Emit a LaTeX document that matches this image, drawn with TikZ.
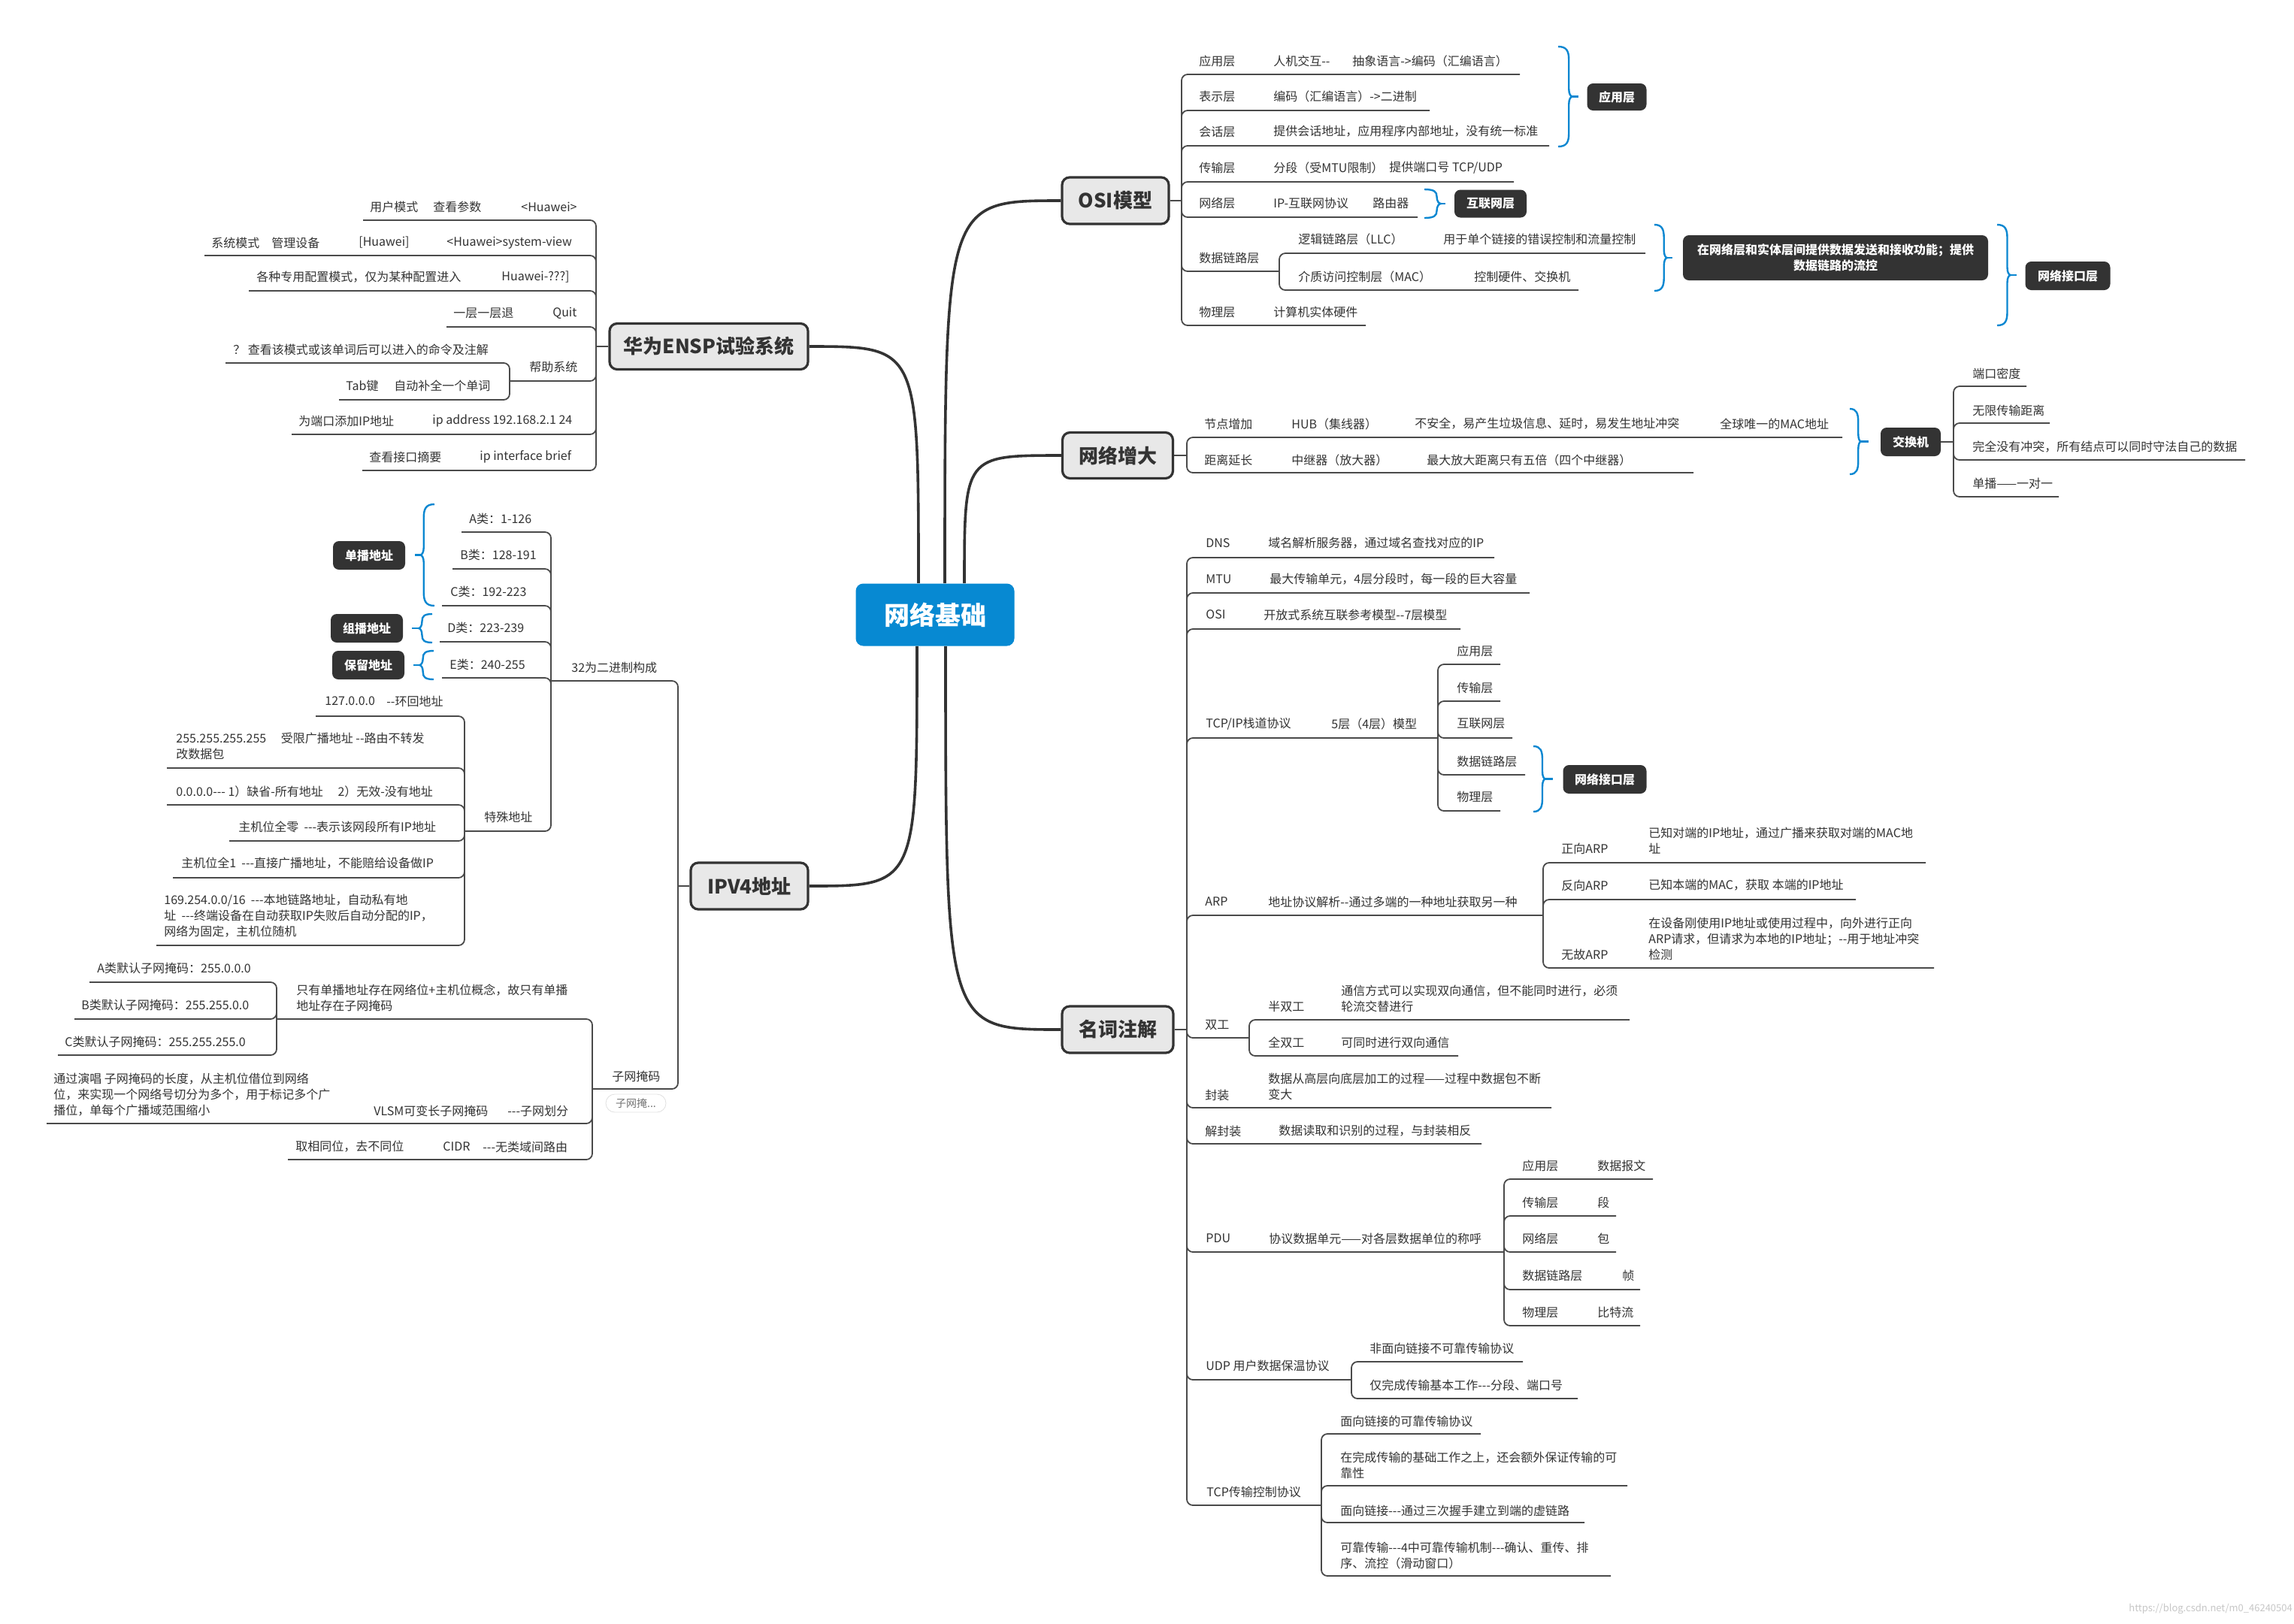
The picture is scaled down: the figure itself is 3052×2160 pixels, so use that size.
\documentclass[tikz,border=0pt]{standalone}
\usepackage{fontspec}
\newfontfamily\cn{Noto Sans CJK SC}
\definecolor{txt}{HTML}{333333}
\definecolor{lnc}{HTML}{4A4A4A}
\definecolor{blu}{HTML}{0A87D1}
\definecolor{rootc}{HTML}{0789D2}
\definecolor{mainf}{HTML}{E8E8E8}
\definecolor{dark}{HTML}{333333}
\tikzset{
 t/.style={inner sep=0pt, anchor=west, text=txt, font=\cn\fontsize{8}{10.5}\selectfont, align=left},
 ln/.style={draw=lnc, line width=0.9pt, rounded corners=4pt},
 conn/.style={draw=dark, line width=1.8pt},
 rootbox/.style={fill=rootc, rounded corners=5pt, text=white, font=\cn\bfseries\fontsize{17}{20}\selectfont, inner sep=0pt},
 mainbox/.style={draw=dark, fill=mainf, line width=1.6pt, rounded corners=5pt, text=dark, font=\cn\bfseries\fontsize{13}{15}\selectfont, inner sep=0pt},
 sumbox/.style={fill=dark, rounded corners=4pt, text=white, font=\cn\bfseries\fontsize{8}{10.5}\selectfont, inner sep=0pt, align=center},
 br/.style={draw=blu, line width=1.2pt},
 ghost/.style={draw=black!12, rounded corners=6pt, text=black!55, font=\cn\fontsize{7}{8}\selectfont, inner sep=0pt},
}
\newcommand\kid[4]{\draw[ln] (#1,#2) |- (#4,#3);}
\newcommand\mybrace[5]{%
 \pgfmathsetmacro\bym{(#2+#3)/2}%
 \pgfmathsetmacro\byr{min(18,(#3-#2)/4)}%
 \pgfmathsetmacro\byq{min(10,(#3-#2)/4)}%
 \pgfmathsetmacro\bxa{#1+0.75*(#4)}%
 \pgfmathsetmacro\bxb{#1+0.88*(#4)}%
 \pgfmathsetmacro\bxc{#1+0.6*(#4)}%
 \pgfmathsetmacro\bxt{#1+(#4)}%
 \pgfmathsetmacro\bxk{#1+(#4)+(#5)}%
 \draw[br] (#1,#2) .. controls (\bxc,#2) and (\bxa,{#2+\byr/3}) .. (\bxa,{#2+\byr})
  -- (\bxa,{\bym-\byq}) .. controls (\bxa,{\bym-\byq/3}) and (\bxb,\bym) .. (\bxt,\bym)
  .. controls (\bxb,\bym) and (\bxa,{\bym+\byq/3}) .. (\bxa,{\bym+\byq})
  -- (\bxa,{#3-\byr}) .. controls (\bxa,{#3-\byr/3}) and (\bxc,#3) .. (#1,#3);
 \draw[br] (\bxt,\bym) -- (\bxk,\bym);
}
\begin{document}
\begin{tikzpicture}[x=0.5pt,y=-0.5pt]
\useasboundingbox (0,0) rectangle (3052,2160);
\fill[white] (0,0) rectangle (3052,2160);

% ---------- root and main nodes
\node[rootbox, minimum width=105.5pt, minimum height=41.5pt] (root) at (1244,818) {网络基础};
\node[mainbox, minimum width=71pt, minimum height=31pt] (osi) at (1484,267) {OSI模型};
\node[mainbox, minimum width=73.5pt, minimum height=30.5pt] (grow) at (1487,606) {网络增大};
\node[mainbox, minimum width=74pt, minimum height=31pt] (term) at (1487,1370) {名词注解};
\node[mainbox, minimum width=132pt, minimum height=30.5pt] (ensp) at (943,461) {华为ENSP试验系统};
\node[mainbox, minimum width=78pt, minimum height=31pt] (ipv4) at (997,1179) {IPV4地址};

\coordinate (r1) at ([xshift=-11pt]root.north);
\coordinate (r2) at ([xshift=6.5pt]root.north);
\coordinate (r3) at ([xshift=19.5pt]root.north);
\coordinate (r4) at ([xshift=-12pt]root.south);
\coordinate (r5) at ([xshift=7pt]root.south);
\draw[conn] (r1) .. controls (r1 |- ensp.east) .. (ensp.east);
\draw[conn] (r2) .. controls (r2 |- osi.west) .. (osi.west);
\draw[conn] (r3) .. controls (r3 |- grow.west) .. (grow.west);
\draw[conn] (r4) .. controls (r4 |- ipv4.east) .. (ipv4.east);
\draw[conn] (r5) .. controls (r5 |- term.west) .. (term.west);

% ---------- OSI
\draw[ln] (osi.east) -- (1572,267);
\kid{1572}{267}{99}{2022}
\kid{1572}{267}{147}{1902}
\kid{1572}{267}{194}{2061}
\kid{1572}{267}{242}{2014}
\kid{1572}{267}{289}{1886}
\kid{1572}{267}{361}{1702}
\kid{1572}{267}{433}{1817}
\kid{1702}{361}{337}{2189}
\kid{1702}{361}{386}{2100}
\node[t] (o1a) at (1595,81) {应用层};
\node[t] (o1b) at (1694,81) {人机交互--};
\node[t] (o1c) at (1799,81) {抽象语言->编码（汇编语言）};
\node[t] (o2a) at (1595,128) {表示层};
\node[t] (o2b) at (1694,128) {编码（汇编语言）->二进制};
\node[t] (o3a) at (1595,175) {会话层};
\node[t] (o3b) at (1694,175) {提供会话地址，应用程序内部地址，没有统一标准};
\node[t] (o4a) at (1595,223) {传输层};
\node[t] (o4b) at (1694,223) {分段（受MTU限制）};
\node[t] (o4c) at (1848,223) {提供端口号 TCP/UDP};
\node[t] (o5a) at (1595,270) {网络层};
\node[t] (o5b) at (1694,270) {IP-互联网协议};
\node[t] (o5c) at (1826,270) {路由器};
\node[t] (o6a) at (1595,343) {数据链路层};
\node[t] (o6b) at (1727,318) {逻辑链路层（LLC）};
\node[t] (o6c) at (1920,318) {用于单个链接的错误控制和流量控制};
\node[t] (o6d) at (1727,368) {介质访问控制层（MAC）};
\node[t] (o6e) at (1961,368) {控制硬件、交换机};
\node[t] (o7a) at (1595,415) {物理层};
\node[t] (o7b) at (1694,415) {计算机实体硬件};
\mybrace{2073}{62}{195}{19}{8}
\node[sumbox, minimum width=39.5pt, minimum height=18pt] (s1) at (2151,129) {应用层};
\mybrace{1895}{252}{290}{22}{6}
\node[sumbox, minimum width=48pt, minimum height=18.5pt] (s2) at (1983,271) {互联网层};
\mybrace{2201}{299}{387}{17}{7}
\node[sumbox, minimum width=203pt, minimum height=30pt] (s3) at (2442,343) {在网络层和实体层间提供数据发送和接收功能；提供\\数据链路的流控};
\mybrace{2657}{299}{433}{18}{8}
\node[sumbox, minimum width=56.5pt, minimum height=19pt] (s4) at (2751,367) {网络接口层};

% ---------- network growth
\draw[ln] (grow.east) -- (1579,606);
\kid{1579}{606}{582}{2451}
\kid{1579}{606}{629}{2253}
\node[t] (n1a) at (1602,564) {节点增加};
\node[t] (n1b) at (1718,564) {HUB（集线器）};
\node[t] (n1c) at (1882,564) {不安全，易产生垃圾信息、延时，易发生地址冲突};
\node[t] (n1d) at (2288,564) {全球唯一的MAC地址};
\node[t] (n2a) at (1602,612) {距离延长};
\node[t] (n2b) at (1718,612) {中继器（放大器）};
\node[t] (n2c) at (1898,612) {最大放大距离只有五倍（四个中继器）};
\mybrace{2461}{544}{631}{15}{10}
\node[sumbox, minimum width=40pt, minimum height=19pt] (sw) at (2542,588) {交换机};
\draw[ln] (sw.east) -- (2599,588);
\kid{2599}{588}{514}{2696}
\kid{2599}{588}{563}{2727}
\kid{2599}{588}{612}{2987}
\kid{2599}{588}{661}{2739}
\node[t] (w1) at (2624,497) {端口密度};
\node[t] (w2) at (2624,546) {无限传输距离};
\node[t] (w3) at (2624,595) {完全没有冲突，所有结点可以同时守法自己的数据};
\node[t] (w4) at (2624,643) {单播——一对一};

% ---------- terms
\draw[ln] (term.east) -- (1579,1370);
\kid{1579}{1370}{742}{1988}
\kid{1579}{1370}{789}{2035}
\kid{1579}{1370}{837}{1943}
\kid{1579}{1370}{982}{1913}
\kid{1579}{1370}{1218}{2053}
\kid{1579}{1370}{1381}{1662}
\kid{1579}{1370}{1474}{2064}
\kid{1579}{1370}{1522}{1971}
\kid{1579}{1370}{1666}{2001}
\kid{1579}{1370}{1836}{1798}
\kid{1579}{1370}{2003}{1758}
\node[t] (d1a) at (1604,723) {DNS};
\node[t] (d1b) at (1687,723) {域名解析服务器，通过域名查找对应的IP};
\node[t] (d2a) at (1604,771) {MTU};
\node[t] (d2b) at (1689,771) {最大传输单元，4层分段时，每一段的巨大容量};
\node[t] (d3a) at (1604,818) {OSI};
\node[t] (d3b) at (1681,818) {开放式系统互联参考模型--7层模型};
\node[t] (d4a) at (1604,963) {TCP/IP栈道协议};
\node[t] (d4b) at (1771,963) {5层（4层）模型};
\kid{1913}{982}{884}{1996}
\kid{1913}{982}{933}{1996}
\kid{1913}{982}{982}{2012}
\kid{1913}{982}{1031}{2029}
\kid{1913}{982}{1079}{1996}
\node[t] (d4c) at (1938,866) {应用层};
\node[t] (d4d) at (1938,915) {传输层};
\node[t] (d4e) at (1938,963) {互联网层};
\node[t] (d4f) at (1938,1013) {数据链路层};
\node[t] (d4g) at (1938,1060) {物理层};
\mybrace{2040}{993}{1080}{16}{10}
\node[sumbox, minimum width=55.5pt, minimum height=19pt] (s5) at (2135,1037) {网络接口层};
\node[t] (d5a) at (1603,1200) {ARP};
\node[t] (d5b) at (1687,1200) {地址协议解析--通过多端的一种地址获取另一种};
\kid{2053}{1218}{1148}{2562}
\kid{2053}{1218}{1197}{2469}
\kid{2053}{1218}{1288}{2573}
\node[t] (d5c) at (2077,1129) {正向ARP};
\node[t] (d5d) at (2193,1119) {已知对端的IP地址，通过广播来获取对端的MAC地\\址};
\node[t] (d5e) at (2077,1178) {反向ARP};
\node[t] (d5f) at (2193,1178) {已知本端的MAC，获取 本端的IP地址};
\node[t] (d5g) at (2077,1270) {无故ARP};
\node[t] (d5h) at (2193,1249) {在设备刚使用IP地址或使用过程中，向外进行正向\\ARP请求，但请求为本地的IP地址；--用于地址冲突\\检测};
\node[t] (d6a) at (1603,1364) {双工};
\kid{1662}{1381}{1357}{2168}
\kid{1662}{1381}{1405}{1940}
\node[t] (d6b) at (1687,1339) {半双工};
\node[t] (d6c) at (1784,1329) {通信方式可以实现双向通信，但不能同时进行，必须\\轮流交替进行};
\node[t] (d6d) at (1687,1387) {全双工};
\node[t] (d6e) at (1784,1387) {可同时进行双向通信};
\node[t] (d7a) at (1603,1457) {封装};
\node[t] (d7b) at (1687,1446) {数据从高层向底层加工的过程——过程中数据包不断\\变大};
\node[t] (d8a) at (1603,1505) {解封装};
\node[t] (d8b) at (1701,1505) {数据读取和识别的过程，与封装相反};
\node[t] (d9a) at (1604,1648) {PDU};
\node[t] (d9b) at (1688,1648) {协议数据单元——对各层数据单位的称呼};
\kid{2001}{1666}{1569}{2199}
\kid{2001}{1666}{1618}{2150}
\kid{2001}{1666}{1666}{2150}
\kid{2001}{1666}{1716}{2182}
\kid{2001}{1666}{1764}{2182}
\node[t] (p1a) at (2025,1551) {应用层};
\node[t] (p1b) at (2125,1551) {数据报文};
\node[t] (p2a) at (2025,1600) {传输层};
\node[t] (p2b) at (2125,1600) {段};
\node[t] (p3a) at (2025,1648) {网络层};
\node[t] (p3b) at (2125,1648) {包};
\node[t] (p4a) at (2025,1697) {数据链路层};
\node[t] (p4b) at (2158,1697) {帧};
\node[t] (p5a) at (2025,1746) {物理层};
\node[t] (p5b) at (2125,1746) {比特流};
\node[t] (d10a) at (1604,1817) {UDP 用户数据保温协议};
\kid{1798}{1836}{1812}{2026}
\kid{1798}{1836}{1861}{2099}
\node[t] (d10b) at (1822,1794) {非面向链接不可靠传输协议};
\node[t] (d10c) at (1822,1843) {仅完成传输基本工作---分段、端口号};
\node[t] (d11a) at (1605,1985) {TCP传输控制协议};
\kid{1758}{2003}{1908}{1970}
\kid{1758}{2003}{1977}{2165}
\kid{1758}{2003}{2026}{2108}
\kid{1758}{2003}{2097}{2143}
\node[t] (d11b) at (1783,1891) {面向链接的可靠传输协议};
\node[t] (d11c) at (1783,1950) {在完成传输的基础工作之上，还会额外保证传输的可\\靠性};
\node[t] (d11d) at (1783,2010) {面向链接---通过三次握手建立到端的虚链路};
\node[t] (d11e) at (1783,2070) {可靠传输---4中可靠传输机制---确认、重传、排\\序、流控（滑动窗口）};

% ---------- ENSP
\draw[ln] (ensp.west) -- (793,461);
\kid{793}{461}{293}{483}
\kid{793}{461}{340}{272}
\kid{793}{461}{387}{331}
\kid{793}{461}{435}{594}
\kid{793}{461}{507}{678}
\kid{793}{461}{578}{388}
\kid{793}{461}{626}{482}
\kid{678}{507}{483}{300}
\kid{678}{507}{532}{451}
\node[t] (e1a) at (492,275) {用户模式};
\node[t] (e1b) at (576,275) {查看参数};
\node[t] (e1c) at (693,275) {<Huawei>};
\node[t] (e2a) at (281,323) {系统模式};
\node[t] (e2b) at (361,323) {管理设备};
\node[t] (e2c) at (477,323) {[Huawei]};
\node[t] (e2d) at (594,323) {<Huawei>system-view};
\node[t] (e3a) at (341,369) {各种专用配置模式，仅为某种配置进入};
\node[t] (e3b) at (667,369) {Huawei-???]};
\node[t] (e4a) at (603,417) {一层一层退};
\node[t] (e4b) at (735,417) {Quit};
\node[t] (e5a) at (704,488) {帮助系统};
\node[t] (e5b) at (310,465) {？ 查看该模式或该单词后可以进入的命令及注解};
\node[t] (e5c) at (460,513) {Tab键};
\node[t] (e5d) at (524,513) {自动补全一个单词};
\node[t] (e6a) at (397,560) {为端口添加IP地址};
\node[t] (e6b) at (575,560) {ip address 192.168.2.1 24};
\node[t] (e7a) at (491,608) {查看接口摘要};
\node[t] (e7b) at (638,608) {ip interface brief};

% ---------- IPV4
\draw[ln] (ipv4.west) -- (902,1179);
\kid{902}{1179}{906}{733}
\kid{902}{1179}{1449}{788}
\node[t] (i1) at (760,888) {32为二进制构成};
\kid{733}{906}{708}{614}
\kid{733}{906}{757}{602}
\kid{733}{906}{806}{588}
\kid{733}{906}{854}{585}
\kid{733}{906}{902}{588}
\kid{733}{906}{1106}{618}
\node[t] (ia) at (624,690) {A类：1-126};
\node[t] (ib) at (612,738) {B类：128-191};
\node[t] (ic) at (599,787) {C类：192-223};
\node[t] (id) at (595,835) {D类：223-239};
\node[t] (ie) at (598,884) {E类：240-255};
\node[t] (if) at (644,1087) {特殊地址};
\mybrace{578}{671}{806}{-19}{-7}
\node[sumbox, minimum width=48pt, minimum height=19pt] (s6) at (491,739) {单播地址};
\mybrace{575}{817}{855}{-18}{-9}
\node[sumbox, minimum width=48pt, minimum height=19pt] (s7) at (488,836) {组播地址};
\mybrace{577}{866}{904}{-19}{-8}
\node[sumbox, minimum width=48pt, minimum height=19pt] (s8) at (490,885) {保留地址};
\kid{618}{1106}{953}{420}
\kid{618}{1106}{1022}{222}
\kid{618}{1106}{1071}{222}
\kid{618}{1106}{1119}{305}
\kid{618}{1106}{1168}{230}
\kid{618}{1106}{1258}{208}
\node[t] (x1a) at (432,933) {127.0.0.0};
\node[t] (x1b) at (514,933) {--环回地址};
\node[t] (x2) at (234,993) {255.255.255.255 \quad 受限广播地址 --路由不转发\\改数据包};
\node[t] (x3) at (234,1053) {0.0.0.0--- 1）缺省-所有地址 \quad 2）无效-没有地址};
\node[t] (x4) at (317,1100) {主机位全零 \ ---表示该网段所有IP地址};
\node[t] (x5) at (241,1149) {主机位全1 \ ---直接广播地址，不能赔给设备做IP};
\node[t] (x6) at (218,1219) {169.254.0.0/16 \ ---本地链路地址，自动私有地\\址 \ ---终端设备在自动获取IP失败后自动分配的IP，\\网络为固定，主机位随机};
\node[t] (i2) at (814,1432) {子网掩码};
\node[ghost, minimum width=40pt, minimum height=12pt] (fold) at (846,1468) {子网掩...};
\kid{788}{1449}{1356}{368}
\kid{788}{1449}{1495}{62}
\kid{788}{1449}{1543}{383}
\node[t] (m1) at (394,1328) {只有单播地址存在网络位+主机位概念，故只有单播\\地址存在子网掩码};
\kid{368}{1356}{1307}{119}
\kid{368}{1356}{1356}{99}
\kid{368}{1356}{1404}{77}
\node[t] (ma) at (129,1288) {A类默认子网掩码：255.0.0.0};
\node[t] (mb) at (108,1337) {B类默认子网掩码：255.255.0.0};
\node[t] (mc) at (86,1386) {C类默认子网掩码：255.255.255.0};
\node[t] (m2a) at (71,1457) {通过演唱 子网掩码的长度，从主机位借位到网络\\位，来实现一个网络号切分为多个，用于标记多个广\\播位，单每个广播域范围缩小};
\node[t] (m2b) at (497,1478) {VLSM可变长子网掩码};
\node[t] (m2c) at (675,1478) {---子网划分};
\node[t] (m3a) at (393,1526) {取相同位，去不同位};
\node[t] (m3b) at (589,1526) {CIDR};
\node[t] (m3c) at (642,1526) {---无类域间路由};

% watermark
\node[t, text=black!22, font=\cn\fontsize{6.5}{8}\selectfont] (wm) at (2832,2141) {https://blog.csdn.net/m0\_46240504};
\end{tikzpicture}
\end{document}
